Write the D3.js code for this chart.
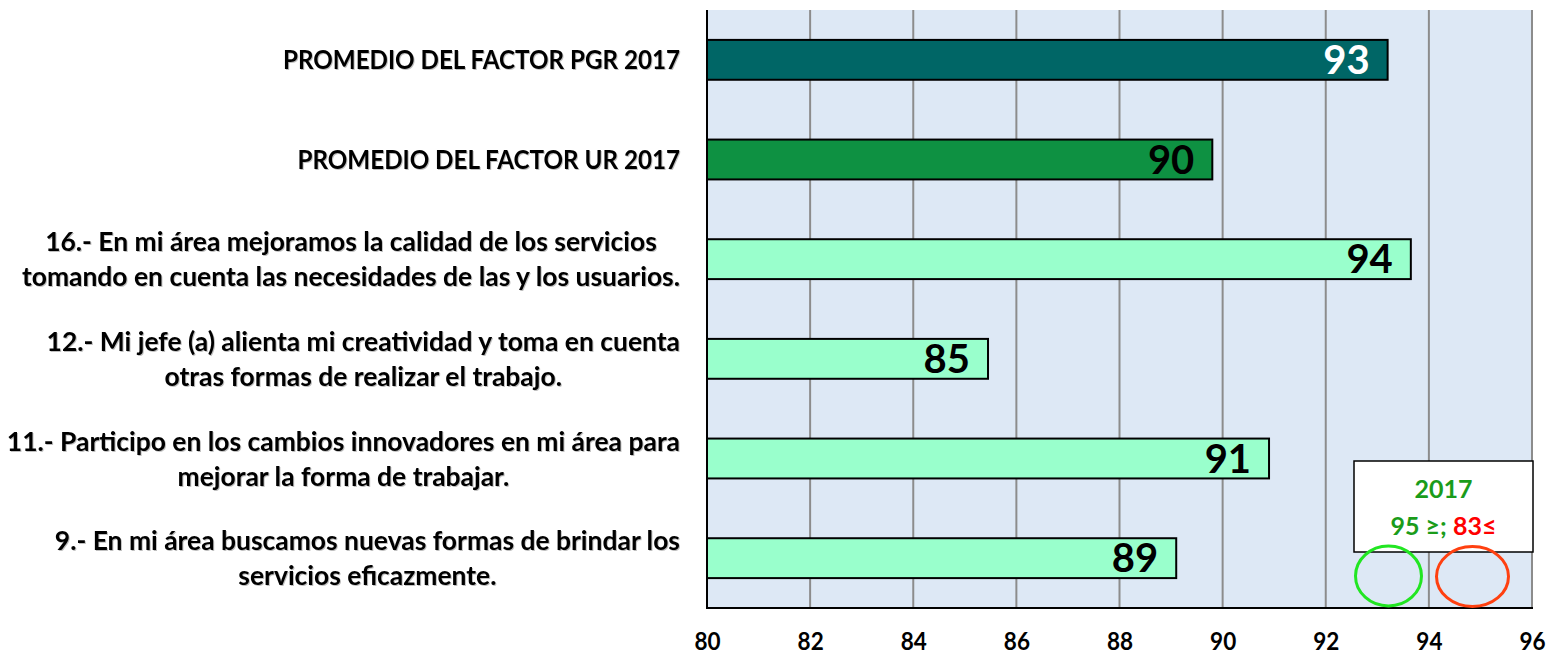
<!DOCTYPE html>
<html>
<head>
<meta charset="utf-8">
<script src="https://cdn.jsdelivr.net/npm/d3@7"></script>
<style>
  html, body { margin: 0; padding: 0; background: #ffffff; }
  svg { display: block; }
</style>
</head>
<body>
<svg id="chart" width="1551" height="656"></svg>
<script>
// ---- data ----
const categories = [
  ["PROMEDIO DEL FACTOR PGR 2017"],
  ["PROMEDIO DEL FACTOR UR 2017"],
  ["16.- En mi área mejoramos la calidad de los servicios", "tomando en cuenta las necesidades de las y los usuarios."],
  ["12.- Mi jefe (a) alienta mi creatividad y toma en cuenta", "otras formas de realizar el trabajo."],
  ["11.- Participo en los cambios innovadores en mi área para", "mejorar la forma de trabajar."],
  ["9.- En mi área buscamos nuevas formas de brindar los", "servicios eficazmente."]
];
const values = [93.2, 89.8, 93.65, 85.45, 90.9, 89.1];
const barColors = ["#006666", "#0e9142", "#99ffcc", "#99ffcc", "#99ffcc", "#99ffcc"];
const labelColors = ["#ffffff", "#000000", "#000000", "#000000", "#000000", "#000000"];
const xTicks = [80, 82, 84, 86, 88, 90, 92, 94, 96];
const legendTitle = "2017";
const legendGood = "95 ≥; ";
const legendBad = "83≤";

(function () {
// ---- layout ----
const svg = d3.select("#chart");
const pLeft = 707, pRight = 1532, pTop = 10, pBottom = 608;
const FONT = "Lato, 'Open Sans', sans-serif";

const x = d3.scaleLinear().domain([80, 96]).range([pLeft, pRight]);
const y = d3.scaleBand().domain(d3.range(categories.length)).range([pTop, pBottom])
  .paddingInner(0.6).paddingOuter(0.3);

// defs: text shadow
const defs = svg.append("defs");
const f = defs.append("filter").attr("id", "shadow").attr("x", "-5%").attr("y", "-20%").attr("width", "110%").attr("height", "140%");
f.append("feDropShadow").attr("dx", 1).attr("dy", 1).attr("stdDeviation", 0.6)
  .attr("flood-color", "#000").attr("flood-opacity", 0.25);

// plot background
svg.append("rect").attr("x", pLeft).attr("y", pTop).attr("width", pRight - pLeft).attr("height", pBottom - pTop)
  .attr("fill", "#dde8f5");

// gridlines
svg.append("g").selectAll("line").data(xTicks.slice(1)).join("line")
  .attr("x1", d => x(d)).attr("x2", d => x(d))
  .attr("y1", pTop).attr("y2", pBottom)
  .attr("stroke", "#8c8c8c").attr("stroke-width", 2);

// bars
svg.append("g").selectAll("rect").data(values).join("rect")
  .attr("x", x(80)).attr("y", (d, i) => y(i))
  .attr("width", d => x(d) - x(80)).attr("height", y.bandwidth())
  .attr("fill", (d, i) => barColors[i])
  .attr("stroke", "#000").attr("stroke-width", 2);

// value labels
svg.append("g").selectAll("text").data(values).join("text")
  .attr("x", d => x(d) - 18)
  .attr("y", (d, i) => y(i) + y.bandwidth() / 2 + 14)
  .attr("text-anchor", "end")
  .attr("font-family", FONT).attr("font-weight", 700).attr("font-size", 40)
  .attr("fill", (d, i) => labelColors[i])
  .text(d => d3.format(".0f")(d));

// axes lines
svg.append("line").attr("x1", pLeft).attr("x2", pLeft).attr("y1", pTop).attr("y2", pBottom + 1)
  .attr("stroke", "#000").attr("stroke-width", 2);
svg.append("line").attr("x1", pLeft - 1).attr("x2", pRight + 1).attr("y1", pBottom).attr("y2", pBottom)
  .attr("stroke", "#000").attr("stroke-width", 2);

// x axis tick labels
const xAxis = d3.axisBottom(x).tickValues(xTicks).tickSize(0).tickPadding(0).tickFormat(d3.format("d"));
const gx = svg.append("g").attr("transform", `translate(0,${pBottom})`).call(xAxis);
gx.select(".domain").remove();
gx.selectAll("text")
  .attr("font-family", FONT).attr("font-weight", 700).attr("font-size", 25)
  .attr("fill", "#000").attr("dy", null).attr("y", 42)
  .each(function () {
    const w = this.getComputedTextLength();
    d3.select(this).attr("textLength", w * 0.9).attr("lengthAdjust", "spacingAndGlyphs");
  });

// category labels
const labelRight = 680;
const catFont = 27;
const cg = svg.append("g").attr("filter", "url(#shadow)");
function measure(t) {
  const p = cg.append("text").attr("font-family", FONT).attr("font-weight", 700)
    .attr("font-size", catFont).text(t);
  const w = p.node().getComputedTextLength();
  p.remove();
  return w;
}
const kCaps = 397 / measure(categories[0][0]);
const kMixed = 658 / measure(categories[2][1]);

categories.forEach((lines, i) => {
  const cy = y(i) + y.bandwidth() / 2;
  const g = cg.append("g");
  const texts = lines.map((t, j) => {
    const capCenter = lines.length === 1 ? cy : cy + (j - 0.5) * 35;
    return g.append("text")
      .attr("font-family", FONT).attr("font-weight", 700).attr("font-size", catFont)
      .attr("fill", "#000")
      .attr("y", capCenter + 9.5)
      .text(t);
  });
  const k = t => (t === t.toUpperCase() ? kCaps : kMixed);
  const widths = texts.map((t, j) => t.node().getComputedTextLength() * k(lines[j]));
  const maxW = d3.max(widths);
  const center = labelRight - maxW / 2;
  texts.forEach((t, j) => {
    t.attr("text-anchor", "middle").attr("x", center)
     .attr("textLength", widths[j]).attr("lengthAdjust", "spacingAndGlyphs");
  });
});

// legend box
const lg = svg.append("g");
lg.append("rect").attr("x", 1354).attr("y", 461).attr("width", 179).attr("height", 91)
  .attr("fill", "#fff").attr("stroke", "#000").attr("stroke-width", 1.5);
lg.append("text").attr("x", 1443.5).attr("y", 498).attr("text-anchor", "middle")
  .attr("font-family", FONT).attr("font-weight", 700).attr("font-size", 25)
  .attr("fill", "#1a9c1a").text(legendTitle);
const lt = lg.append("text").attr("x", 1443.5).attr("y", 535).attr("text-anchor", "middle")
  .attr("font-family", FONT).attr("font-weight", 700).attr("font-size", 25);
lt.append("tspan").attr("fill", "#1a9c1a").text(legendGood);
lt.append("tspan").attr("fill", "#ff0000").text(legendBad);

// circles
lg.append("ellipse").attr("cx", 1388.5).attr("cy", 576).attr("rx", 33).attr("ry", 30)
  .attr("fill", "none").attr("stroke", "#22e622").attr("stroke-width", 3);
lg.append("ellipse").attr("cx", 1472.5).attr("cy", 576.5).attr("rx", 36).attr("ry", 30)
  .attr("fill", "none").attr("stroke", "#ff4010").attr("stroke-width", 3);
})();
</script>
</body>
</html>
